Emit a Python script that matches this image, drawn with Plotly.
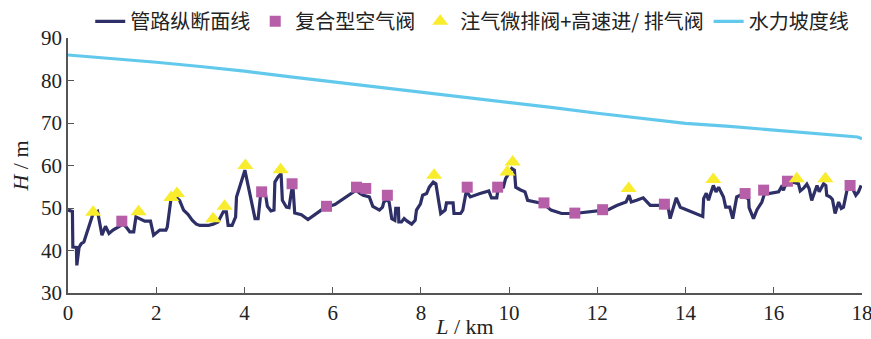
import plotly.graph_objects as go

# Pipeline longitudinal profile: chainage L (km) and ground elevation H (m)
profile_L = [0.00, 0.10, 0.11, 0.19, 0.20, 0.25, 0.30, 0.36, 0.57, 0.67, 0.77, 0.85, 0.93, 1.02,
             1.25, 1.32, 1.40, 1.49, 1.54, 1.63, 1.74, 1.87, 1.94, 2.08, 2.22, 2.25, 2.33, 2.44,
             2.53, 2.62, 2.72, 2.82, 2.91, 2.99, 3.18, 3.29, 3.40, 3.52, 3.59, 3.63, 3.72, 3.80,
             3.82, 4.01, 4.10, 4.17, 4.24, 4.31, 4.37, 4.48, 4.52, 4.60, 4.67, 4.69, 4.76, 4.83,
             4.86, 4.95, 5.01, 5.07, 5.10, 5.14, 5.29, 5.44, 5.63, 5.82, 6.05, 6.24, 6.41, 6.53,
             6.62, 6.69, 6.83, 6.91, 7.06, 7.13, 7.16, 7.24, 7.28, 7.34, 7.41, 7.43, 7.49, 7.50,
             7.56, 7.62, 7.69, 7.79, 7.87, 7.90, 7.99, 8.04, 8.13, 8.19, 8.28, 8.34, 8.40, 8.45,
             8.55, 8.58, 8.73, 8.75, 8.90, 8.95, 9.03, 9.12, 9.34, 9.54, 9.60, 9.72, 9.75, 9.87,
             9.92, 10.06, 10.12, 10.15, 10.25, 10.36, 10.42, 10.59, 10.78, 10.95, 11.19, 11.48,
             11.80, 12.10, 12.25, 12.44, 12.65, 12.72, 12.77, 12.89, 13.04, 13.20, 13.50, 13.61,
             13.65, 13.79, 13.88, 14.39, 14.41, 14.47, 14.52, 14.57, 14.63, 14.69, 14.75, 14.80,
             14.86, 14.91, 15.00, 15.07, 15.16, 15.24, 15.43, 15.44, 15.54, 15.62, 15.73, 15.79,
             15.88, 16.11, 16.17, 16.22, 16.26, 16.41, 16.56, 16.60, 16.67, 16.75, 16.80, 16.86,
             16.92, 16.98, 17.03, 17.08, 17.13, 17.18, 17.20, 17.28, 17.33, 17.39, 17.47, 17.53,
             17.58, 17.66, 17.77, 17.86, 17.92, 17.98]
profile_H = [49.5, 49.2, 40.8, 40.7, 36.5, 40.7, 41.6, 42.0, 48.7, 49.2, 43.6, 45.7, 44.0, 44.8,
             46.2, 45.5, 44.4, 44.4, 47.9, 47.5, 46.9, 46.9, 43.6, 44.8, 44.8, 45.5, 51.8, 52.6,
             51.8, 49.5, 48.5, 47.1, 46.2, 45.9, 45.9, 46.2, 46.7, 49.1, 49.1, 45.9, 45.9, 47.9,
             52.6, 58.9, 54.2, 50.2, 47.5, 47.5, 53.4, 53.0, 50.4, 49.3, 49.5, 56.1, 57.3, 58.1,
             51.8, 50.2, 50.1, 54.2, 54.9, 48.8, 48.4, 47.3, 48.7, 50.1, 50.8, 52.2, 53.4, 54.2,
             53.4, 53.0, 52.6, 50.4, 49.5, 50.2, 51.4, 52.0, 51.4, 47.5, 47.1, 49.9, 49.9, 46.7,
             46.7, 47.5, 46.9, 46.2, 47.1, 49.5, 51.0, 53.0, 53.4, 54.9, 56.1, 55.7, 51.8, 48.7,
             49.5, 51.2, 51.2, 48.7, 48.7, 49.5, 54.0, 52.6, 53.4, 54.0, 52.4, 52.4, 54.6, 54.9,
             56.9, 59.3, 58.9, 54.9, 54.3, 53.8, 51.8, 51.4, 51.0, 49.5, 48.7, 48.7,
             49.1, 49.6, 49.6, 50.6, 51.4, 53.0, 51.4, 51.8, 52.4, 50.6, 50.6, 49.9,
             47.5, 52.4, 50.2, 48.0, 52.2, 53.5, 51.8, 53.5, 55.3, 53.8, 54.9, 53.8,
             52.6, 50.2, 50.2, 47.5, 52.6, 53.0, 52.2, 50.1, 47.5, 49.6, 51.4, 53.4,
             53.4, 53.8, 54.9, 54.2, 55.3, 56.1, 55.7, 54.0, 54.6, 55.6, 54.6, 51.8,
             53.4, 55.3, 53.8, 54.9, 55.7, 55.3, 53.0, 52.6, 52.0, 48.7, 51.4, 49.9,
             50.2, 54.2, 54.9, 53.0, 53.8, 55.3]

# Combination air valves
combo_L = [1.22, 4.39, 5.08, 5.86, 6.54, 6.75, 7.24, 9.05, 9.74, 10.79, 11.49, 12.12, 13.52,
           15.35, 15.77, 16.31, 17.73]
combo_H = [46.9, 53.8, 55.7, 50.4, 54.9, 54.6, 53.0, 54.9, 54.9, 51.2, 48.8, 49.6, 50.9,
           53.4, 54.2, 56.3, 55.3]

# Air-injection micro-exhaust valves + high-speed intake/exhaust valves
inject_L = [0.57, 1.60, 2.34, 2.47, 3.29, 3.55, 4.02, 4.82, 8.30, 9.96, 10.08, 12.71, 14.63,
            16.52, 17.17]
inject_H = [49.0, 49.1, 52.5, 53.4, 47.5, 50.4, 60.0, 59.0, 57.7, 58.5, 60.8, 54.6, 56.7,
            56.9, 56.9]

# Hydraulic grade line
hgl_L = [0, 1, 2, 3, 4, 5, 6, 7, 8, 9, 10, 11, 12, 13, 14, 15, 16, 17, 17.9, 18]
hgl_H = [86.0, 85.2, 84.3, 83.3, 82.2, 80.9, 79.7, 78.5, 77.3, 76.0, 74.8, 73.6, 72.3, 71.1,
         69.9, 69.2, 68.4, 67.6, 66.7, 66.3]

x_ticks = [0, 2, 4, 6, 8, 10, 12, 14, 16, 18]
y_ticks = [30, 40, 50, 60, 70, 80, 90]

NAVY = "#2d2f66"
PINK = "#b65fa8"
YELLOW = "#f8ec2c"
SKY = "#62c9ec"
AXIS = "#555555"
TEXT = "#222222"
SERIF = "Times New Roman, Liberation Serif, DejaVu Serif, serif"
CJK = "Noto Sans CJK SC"

fig = go.Figure()
fig.add_trace(go.Scatter(x=profile_L, y=profile_H, mode="lines", name="管路纵断面线",
                         line=dict(color=NAVY, width=3.2)))
fig.add_trace(go.Scatter(x=combo_L, y=combo_H, mode="markers", name="复合型空气阀",
                         marker=dict(symbol="square", size=11, color=PINK)))
fig.add_trace(go.Scatter(x=inject_L, y=inject_H, mode="markers", name="注气微排阀+高速进/ 排气阀",
                         marker=dict(symbol="triangle-up", size=14, color=YELLOW)))
fig.add_trace(go.Scatter(x=hgl_L, y=hgl_H, mode="lines", name="水力坡度线",
                         line=dict(color=SKY, width=3.2)))

axis_common = dict(showline=True, linecolor=AXIS, linewidth=1.5, ticks="inside", ticklen=6,
                   tickcolor=AXIS, tickwidth=1.2, showgrid=False, zeroline=False,
                   tickfont=dict(family=SERIF, size=21, color=TEXT),
                   ticklabeloverflow="allow", automargin=False)

fig.update_layout(
    width=871, height=339,
    margin=dict(l=68, r=9, t=38, b=46, autoexpand=False),
    paper_bgcolor="white", plot_bgcolor="white",
    showlegend=True,
    legend=dict(orientation="h", x=0.028, xanchor="left", y=1.142, yanchor="top",
                font=dict(family=CJK, size=20, color=TEXT),
                bgcolor="rgba(0,0,0,0)", itemwidth=30, tracegroupgap=0),
    xaxis=dict(range=[0, 18], tickvals=x_ticks,
               title=dict(text="<i>L</i> / km", font=dict(family=SERIF, size=22, color=TEXT),
                          standoff=4),
               **axis_common),
    yaxis=dict(range=[30, 90], tickvals=y_ticks,
               title=dict(text="<i>H</i> / m", font=dict(family=SERIF, size=22, color=TEXT),
                          standoff=6),
               **axis_common),
)

fig.write_html("out.html")
